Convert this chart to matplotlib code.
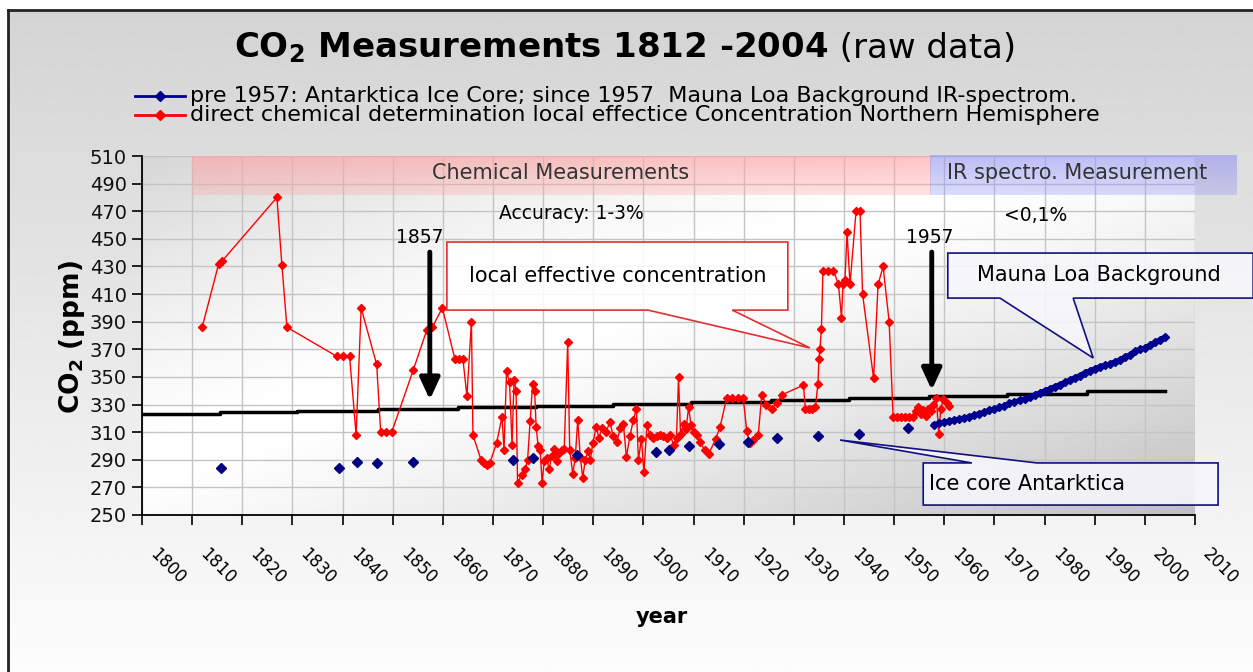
import numpy as np
import matplotlib.pyplot as plt
from matplotlib.patches import Polygon
from matplotlib.transforms import ScaledTranslation

plt.rcParams['font.family'] = ['DejaVu Sans']

#------------------------------------------------------------------------
# datos

# medicion quimica directa (serie roja)
red_years = [1812.0, 1815.3, 1816.0, 1826.9, 1827.9, 1828.9,
             1838.8, 1840.1, 1841.4, 1842.7, 1843.7, 1846.8,
             1847.6, 1848.7, 1849.8, 1854.1, 1856.8, 1857.9,
             1859.9, 1862.4, 1863.2, 1864.0, 1864.8, 1865.7,
             1866.0, 1867.6, 1868.2, 1868.8, 1869.4, 1870.7,
             1871.8, 1872.2, 1872.7, 1873.3, 1873.8, 1874.2,
             1874.6, 1874.9, 1875.7, 1876.4, 1876.9, 1877.4,
             1877.9, 1878.3, 1878.6, 1879.0, 1879.4, 1879.8,
             1880.2, 1880.7, 1881.2, 1881.7, 1882.2, 1882.7,
             1883.2, 1883.7, 1884.2, 1884.9, 1885.3, 1885.9,
             1886.4, 1886.9, 1887.4, 1887.9, 1888.4, 1888.9,
             1889.4, 1889.9, 1890.6, 1891.1, 1891.8, 1892.5,
             1893.3, 1894.0, 1894.7, 1895.4, 1896.0, 1896.6,
             1897.3, 1898.0, 1898.6, 1899.0, 1899.6, 1900.1,
             1900.7, 1901.3, 1902.0, 1902.7, 1903.4, 1904.0,
             1904.7, 1905.3, 1906.0, 1906.6, 1907.0, 1907.4,
             1908.0, 1908.5, 1909.0, 1909.5, 1910.0, 1910.6,
             1911.3, 1912.2, 1913.0, 1914.4, 1915.3, 1916.6,
             1917.7, 1918.8, 1919.9, 1920.6, 1921.2, 1921.8,
             1922.9, 1923.6, 1924.5, 1925.6, 1926.6, 1927.6,
             1931.9, 1932.3, 1933.0, 1933.7, 1934.3, 1934.8,
             1935.0, 1935.2, 1935.5, 1935.8, 1936.8, 1937.9,
             1938.9, 1939.5, 1939.8, 1940.2, 1940.6, 1941.2,
             1942.4, 1943.2, 1943.7, 1945.9, 1946.8, 1947.8,
             1949.0, 1949.8, 1950.6, 1951.4, 1952.2, 1953.0,
             1953.8, 1954.3, 1954.8, 1955.3, 1955.8, 1956.3,
             1956.8, 1957.3, 1957.8, 1958.4, 1958.9, 1959.3,
             1959.8, 1960.5, 1961.0]
red_ppm = [386, 432, 434, 480, 431, 386,
           365, 365, 365, 308, 400, 359,
           310, 310, 310, 355, 384, 386,
           400, 363, 363, 363, 336, 390,
           308, 290, 288, 286, 288, 302,
           321, 297, 354, 346, 301, 348,
           340, 273, 279, 283, 290, 318,
           345, 340, 314, 300, 297, 273,
           289, 291, 283, 293, 298, 289,
           295, 297, 298, 375, 297, 280,
           291, 319, 292, 277, 290, 296,
           290, 302, 314, 306, 313, 310,
           317, 307, 303, 313, 316, 292,
           307, 319, 327, 290, 305, 281,
           315, 308, 306, 307, 308, 307,
           306, 308, 301, 306, 350, 309,
           316, 312, 328, 315, 310, 308,
           303, 297, 294, 305, 314, 335,
           335, 335, 335, 311, 302, 304,
           308, 337, 330, 327, 331, 337,
           344, 327, 327, 327, 328, 345,
           363, 370, 385, 427, 427, 427,
           417, 393, 417, 420, 455, 417,
           470, 470, 410, 349, 417, 430,
           390, 321, 321, 321, 321, 321,
           321, 325, 328, 323, 326, 322,
           327, 325, 330, 335, 309, 327,
           334, 331, 329]

# nucleo de hielo Antartida (puntos azules)
ice_years = [1815.7, 1839.2, 1842.9, 1846.8, 1854.1, 1874.0, 1877.9, 1886.7,
             1902.6, 1905.0, 1909.0, 1915.1, 1920.9, 1926.7, 1934.9, 1942.9, 1952.7]
ice_ppm = [284, 284, 288.6, 287.4, 288.6, 289.8, 291, 293.4,
           295.8, 297, 300, 301.4, 303, 306, 307.4, 309, 312.8]

# Mauna Loa
ml_years = list(range(1958, 2005))
ml_ppm = [315.5, 316.5, 317.5, 318, 319, 319.5, 320.5, 321.2, 322.5, 323.5,
          324.5, 326, 327, 328, 329, 331, 332, 333, 334, 335.5,
          337, 338.5, 340, 341.5, 343, 344.5, 346, 347.7, 349.5, 351,
          353, 354.5, 356, 357.5, 358.5, 359.5, 361, 362.5, 364.5, 366,
          368.5, 370, 371, 373, 375, 377, 379]

# linea negra escalonada
trend_years = [1800, 1815.5, 1831, 1847, 1863, 1878.5, 1894, 1909.5, 1925.5,
               1941, 1957, 1972.5, 1988.5, 2004]
trend_ppm = [323, 324.3, 325.4, 326.8, 328.2, 329.2, 330.2, 331.8, 333.3,
             334.6, 336.1, 337.9, 339.6, 339.6]

x_ticks = list(range(1800, 2011, 10))
y_ticks = list(range(250, 511, 20))

#------------------------------------------------------------------------
W, H = 1253, 672
fig = plt.figure(figsize=(W / 100, H / 100), dpi=100)

# fondo de la figura
bg = fig.add_axes([0, 0, 1, 1], zorder=-10)
bg.axis('off')
grad = np.linspace(0.83, 0.99, 256).reshape(-1, 1)
bg.imshow(grad, extent=[8 / W, 1, 0, 1 - 10 / H], aspect='auto', cmap='gray',
          vmin=0, vmax=1, origin='upper')
bg.plot([8 / W, 8 / W], [0, 1 - 10 / H], color='#222222', lw=2)
bg.plot([8 / W, 1], [1 - 10 / H, 1 - 10 / H], color='#222222', lw=2)
bg.set_xlim(0, 1)
bg.set_ylim(0, 1)

ax = fig.add_axes([142 / W, 1 - 515 / H, 1053 / W, 359 / H])
ax.patch.set_alpha(0)

# degradado del area de trazado
u = np.linspace(0, 1, 300)
v = np.linspace(1, 0, 150)
U, V = np.meshgrid(u, v)
t = (U + (1 - V)) / 2
val = np.where(t < 0.42, 1 - 0.16 * np.clip((0.42 - t) / 0.42, 0, 1) ** 1.3,
               1 - 0.25 * np.clip((t - 0.45) / 0.55, 0, 1) ** 1.2)
ax.imshow(val, extent=[1800, 2010, 250, 510], aspect='auto', cmap='gray',
          vmin=0, vmax=1, origin='upper', zorder=0)

ax.grid(True, color='#c4c4c4', lw=1)
ax.set_axisbelow(True)

# bandas superiores
n = 40
pink = np.zeros((n, 1, 4))
pink[..., 0], pink[..., 1], pink[..., 2] = 1.0, 0.64, 0.64
pink[..., 3] = np.linspace(0.65, 0.3, n).reshape(-1, 1)
ax.imshow(pink, extent=[1809.9, 1957.2, 481.7, 510], aspect='auto', origin='upper', zorder=1)
blue = np.zeros((n, 1, 4))
blue[..., 0], blue[..., 1], blue[..., 2] = 0.6, 0.6, 0.95
blue[..., 3] = np.linspace(0.65, 0.35, n).reshape(-1, 1)
im = ax.imshow(blue, extent=[1957.2, 2018.4, 481.7, 510], aspect='auto', origin='upper', zorder=1)
im.set_clip_on(False)

ax.text(1883.4, 497.6, 'Chemical Measurements', ha='center', va='center', fontsize=15, color='#333333', zorder=2)
ax.text(1986.5, 497.6, 'IR spectro. Measurement', ha='center', va='center', fontsize=15, color='#333333',
        zorder=2, clip_on=False)
ax.text(1885.6, 468.7, 'Accuracy: 1-3%', ha='center', va='center', fontsize=13.5, zorder=2)
ax.text(1978.3, 467.2, '<0,1%', ha='center', va='center', fontsize=13.5, zorder=2)

# series
ax.step(trend_years, trend_ppm, where='post', color='black', lw=2.5, zorder=3)
ax.plot(red_years, red_ppm, color='red', lw=1.0, marker='D', ms=4.5, mec='red', mfc='red', zorder=4)
ax.plot(ice_years, ice_ppm, ls='none', marker='D', ms=5, color='#000080', zorder=4)
ax.plot(ml_years, ml_ppm, color='#000090', lw=3.5, marker='D', ms=4.5, zorder=4)

# flechas 1857 y 1957
for yr, tip in [(1857.4, 333.5), (1957.5, 340.5)]:
    ax.annotate('', xy=(yr, tip), xytext=(yr, 440.4),
                arrowprops=dict(arrowstyle='-|>,head_width=0.3,head_length=0.65', lw=3.5,
                                color='black', shrinkA=0, shrinkB=0, mutation_scale=20), zorder=6)
ax.text(1855.4, 451.3, '1857', ha='center', va='center', fontsize=13.5, zorder=6)
ax.text(1957.2, 451.3, '1957', ha='center', va='center', fontsize=13.5, zorder=6)


# cuadros de texto con puntero
def callout(x0, x1, y0, y1, b1, b2, tip, side, edge, face):
    if side == 'bottom':
        pts = [(x0, y1), (x1, y1), (x1, y0), (b2, y0), tip, (b1, y0), (x0, y0)]
    else:
        pts = [(x0, y0), (x0, y1), (b1, y1), tip, (b2, y1), (x1, y1), (x1, y0)]
    p = Polygon(pts, closed=True, facecolor=face, edgecolor=edge, lw=1.2, zorder=7, clip_on=False)
    ax.add_patch(p)


callout(1860.8, 1928.8, 398.4, 447.7, 1900.9, 1917.7, (1933.2, 371), 'bottom', '#e03030', (1, 1, 1, 0.88))
ax.text(1894.8, 423, 'local effective concentration', ha='center', va='center', fontsize=15, zorder=8)
callout(1960.7, 2021.6, 407.1, 439.7, 1971.1, 1985.7, (1989.7, 363.7), 'bottom', '#101080', (0.97, 0.97, 0.99, 0.88))
ax.text(1990.9, 423.8, 'Mauna Loa Background', ha='center', va='center', fontsize=15, zorder=8, clip_on=False)
callout(1955.8, 2014.6, 257.2, 287.7, 1965.5, 1978.5, (1939.2, 304.3), 'top', '#101080', (0.97, 0.97, 0.99, 0.88))
ax.text(1957.0, 272.4, 'Ice core Antarktica', ha='left', va='center', fontsize=15, zorder=8, clip_on=False)

# ejes
ax.set_xlim(1800, 2010)
ax.set_ylim(250, 510)
ax.set_xticks(x_ticks)
ax.set_xticklabels([str(x) for x in x_ticks], rotation=-45, rotation_mode='anchor',
                   ha='left', va='top', fontsize=12)
ax.set_yticks(y_ticks)
ax.set_yticklabels([str(y) for y in y_ticks], fontsize=14, color='#111111')
ax.tick_params(axis='x', length=7, pad=15, width=1.2)
ax.tick_params(axis='y', length=7, pad=4, width=1.2)
for lab in ax.get_xticklabels():
    lab.set_transform(lab.get_transform() + ScaledTranslation(0.17, 0, fig.dpi_scale_trans))
ax.spines['top'].set_visible(False)
ax.spines['right'].set_visible(False)
ax.spines['left'].set_linewidth(1.3)
ax.spines['bottom'].set_linewidth(1.3)

fig.text(72 / W, 1 - 337 / H, r'CO$_\mathbf{2}$ (ppm)', rotation=90, ha='center', va='center',
         fontsize=19, fontweight='bold')
fig.text(662 / W, 1 - 617 / H, 'year', ha='center', va='center', fontsize=15, fontweight='bold')

# leyenda
for yy, col, txt in [(96, '#000090', 'pre 1957: Antarktica Ice Core; since 1957  Mauna Loa Background IR-spectrom.'),
                     (115, 'red', 'direct chemical determination local effectice Concentration Northern Hemisphere')]:
    bg.plot([135 / W, 185 / W], [1 - yy / H] * 2, color=col, lw=2)
    bg.plot([160 / W], [1 - yy / H], color=col, marker='D', ms=5)
    fig.text(190 / W, 1 - yy / H, txt, ha='left', va='center', fontsize=16)

# titulo en dos partes
t1 = fig.text(0, 1 - 48 / H, r'CO$_\mathbf{2}$ Measurements 1812 -2004', ha='left', va='center',
              fontsize=24.5, fontweight='bold')
t2 = fig.text(0, 1 - 48 / H, ' (raw data)', ha='left', va='center', fontsize=24.5)
fig.canvas.draw()
r = fig.canvas.get_renderer()
w1 = t1.get_window_extent(r).width
w2 = t2.get_window_extent(r).width
x0 = 625 - (w1 + w2) / 2
t1.set_x(x0 / W)
t2.set_x((x0 + w1) / W)

fig.savefig('out.png', dpi=100)
